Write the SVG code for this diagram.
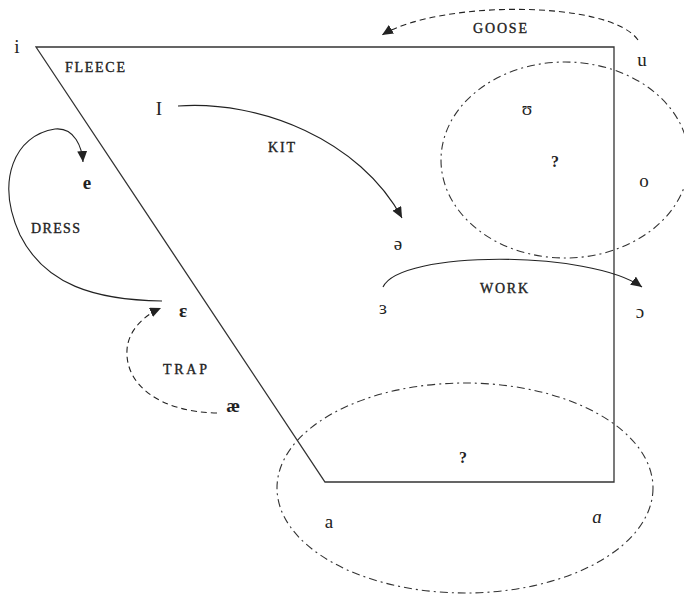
<svg xmlns="http://www.w3.org/2000/svg" width="684" height="596" viewBox="0 0 684 596">
<defs>
<style>
.ipa{font-family:"Liberation Serif","DejaVu Serif",serif;font-size:19px;fill:#222;text-anchor:middle}
.b{font-weight:bold}
.sc{font-family:"Liberation Serif","DejaVu Serif",serif;font-size:14px;fill:#222;stroke:#222;stroke-width:0.35}
.line{fill:none;stroke:#333;stroke-width:1.3}
.dd{fill:none;stroke:#333;stroke-width:1.1;stroke-dasharray:8 4 2 4}
.arc{fill:none;stroke:#222;stroke-width:1.1;marker-end:url(#ah)}
.dash{stroke-dasharray:6 4}
</style>
<marker id="ah" markerUnits="userSpaceOnUse" markerWidth="14" markerHeight="12" refX="11" refY="5" orient="auto">
<path d="M0,0 L11,5 L0,10 Z" fill="#222"/>
</marker>
</defs>
<rect width="684" height="596" fill="#fff"/>
<g id="trapezoid"><path class="line" d="M36,47 L614,47 L614,482 L325,482 Z"/></g>
<g id="back-rounded-region"><ellipse class="dd" cx="565" cy="160" rx="124" ry="98"/></g>
<g id="open-region"><ellipse class="dd" cx="465" cy="488" rx="188" ry="105"/></g>
<g id="connectors">
<path id="goose-arrow" class="arc dash" d="M638,40 C610,0 440,0 382,35"/>
<path id="kit-arrow" class="arc" d="M178,106 C260,100 360,140 402,218"/>
<path id="dress-arrow" class="arc" d="M162,301 C95,300 45,285 20,235 C-5,180 15,135 55,129 C75,127 82,148 83,162"/>
<path id="trap-arrow" class="arc dash" d="M217,413 C160,412 125,385 127,350 C128,330 145,315 161,308"/>
<path id="work-arrow" class="arc" d="M383,287 C400,250 590,250 642,287"/>
</g>
<g id="v-i"><text class="ipa" x="17" y="53">i</text></g>
<g id="v-u"><text class="ipa" x="642" y="66">u</text></g>
<g id="v-I"><text class="ipa" x="159" y="115">I</text></g>
<g id="v-e"><text class="ipa b" x="87" y="189">e</text></g>
<g id="v-eps"><text class="ipa b" x="183" y="317">ɛ</text></g>
<g id="v-ae"><text class="ipa b" x="233" y="412">æ</text></g>
<g id="v-schwa"><text class="ipa" x="398" y="250">ə</text></g>
<g id="v-3"><text class="ipa" x="383" y="314">ɜ</text></g>
<g id="v-open-o"><text class="ipa" x="640" y="318">ɔ</text></g>
<g id="v-upsilon"><text class="ipa" x="527" y="115">ʊ</text></g>
<g id="v-q1"><text class="ipa b" x="555" y="167" style="font-size:16px">?</text></g>
<g id="v-o"><text class="ipa" x="644" y="187">o</text></g>
<g id="v-q2"><text class="ipa b" x="463" y="463" style="font-size:16px">?</text></g>
<g id="v-a"><text class="ipa" x="329" y="528">a</text></g>
<g id="v-alpha"><text class="ipa" x="597" y="523" style="font-style:italic">ɑ</text></g>
<g id="l-fleece"><text class="sc" x="65" y="72" textLength="60" lengthAdjust="spacing">FLEECE</text></g>
<g id="l-kit"><text class="sc" x="268" y="152" textLength="27" lengthAdjust="spacing">KIT</text></g>
<g id="l-dress"><text class="sc" x="31" y="233" textLength="49" lengthAdjust="spacing">DRESS</text></g>
<g id="l-trap"><text class="sc" x="163" y="374" textLength="44" lengthAdjust="spacing">TRAP</text></g>
<g id="l-work"><text class="sc" x="480" y="293" textLength="48" lengthAdjust="spacing">WORK</text></g>
<g id="l-goose"><text class="sc" x="473" y="33" textLength="54" lengthAdjust="spacing">GOOSE</text></g>
</svg>
